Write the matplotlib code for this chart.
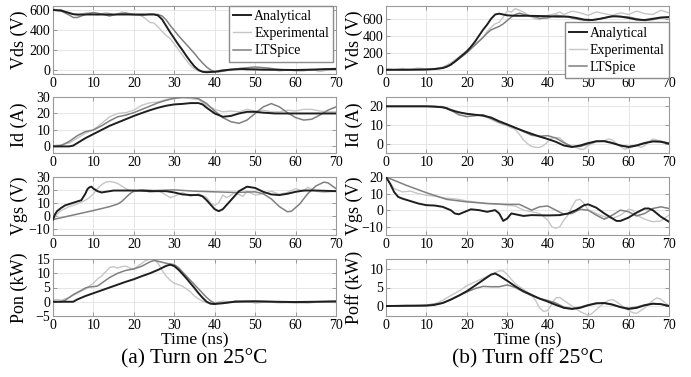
import matplotlib
matplotlib.use("Agg")
import matplotlib.pyplot as plt

plt.rcParams['font.family'] = ['Liberation Serif', 'DejaVu Serif']

# ---------------- (a) turn on ----------------
# Vds (V)
on_vds_ana_t = [0, 2, 4, 5, 6, 10, 15, 20, 25, 26, 27, 28, 29, 30, 31, 32, 33, 34, 35, 36, 37, 38, 40, 42, 44, 47, 50, 55, 60, 65, 70]
on_vds_ana_v = [600, 595, 570, 558, 555, 555, 555, 555, 555, 545, 505, 440, 375, 315, 255, 200, 140, 85, 35, 0, -18, -22, -18, -5, 5, 10, 5, 2, 0, 5, 10]
on_vds_exp_t = [0, 1, 2, 3, 4, 5, 6, 7, 8, 9, 10, 11, 12, 13, 14, 15, 16, 17, 18, 19, 20, 21, 22, 23, 24, 25, 26, 27, 28, 29, 30, 31, 32, 33, 34, 35, 36, 37, 38, 39, 40,
                42, 44, 46, 48, 50, 52, 54, 56, 58, 60, 62, 64, 66, 68, 70]
on_vds_exp_v = [610, 600, 605, 580, 575, 560, 545, 555, 570, 575, 560, 550, 560, 575, 565, 550, 560, 580, 570, 555, 545, 555, 540, 510, 475, 470, 430, 385, 345, 315, 260, 205, 150, 95, 45, 10, -10, -15, -10, -5, -15,
                5, -5, 10, -5, 15, -5, 5, -10, 0, -5, -10, 5, -15, 0, -5]
on_vds_lts_t = [0, 2, 4, 5, 6, 8, 10, 12, 14, 16, 18, 20, 22, 24, 26, 27, 28, 29, 30, 31, 32, 33, 34, 35, 36, 37, 38, 39, 40, 41, 43, 46, 50, 53, 56, 60, 64, 67, 70]
on_vds_lts_v = [600, 590, 550, 525, 525, 555, 575, 560, 540, 560, 570, 555, 545, 560, 555, 540, 500, 445, 395, 345, 300, 255, 210, 165, 115, 70, 30, 0, -15, -18, -5, 15, 30, 20, 5, -5, 0, 10, 15]

# Id (A)
on_id_ana_t = [0, 4, 5, 6, 8, 10, 12, 14, 16, 18, 20, 22, 24, 26, 28, 30, 32, 34, 36, 37, 38, 40, 42, 44, 46, 48, 50, 52, 55, 60, 65, 70]
on_id_ana_v = [0, 0, 0.5, 2, 5, 7.5, 10, 12.5, 14.5, 16.5, 18.5, 20.3, 22, 23.5, 24.7, 25.5, 25.8, 26.3, 26.3, 25.5, 23.5, 20, 18, 18.5, 20, 21, 21, 20.5, 20, 20, 20, 20]
on_id_exp_t = [0, 2, 4, 6, 8, 10, 12, 14, 16, 18, 20, 22, 24, 26, 28, 30, 32, 34, 36, 38, 40, 42, 44, 46, 48, 50, 52, 54, 56, 58, 60, 62, 64, 66, 68, 70]
on_id_exp_v = [0.5, 1, 2, 5, 8, 10, 14, 18, 20, 20.5, 22, 25, 26.5, 27, 28.5, 29, 29.5, 29, 28.5, 25, 22.5, 21, 21.5, 21, 22.5, 21.5, 22, 21, 21, 22, 21.5, 22.5, 22.5, 21.5, 21, 21]
on_id_lts_t = [0, 2, 4, 6, 8, 10, 12, 14, 16, 18, 20, 22, 24, 26, 28, 30, 32, 34, 36, 38, 40, 42, 44, 46, 48, 50, 52, 54, 56, 58, 60, 62, 64, 66, 68, 70]
on_id_lts_v = [0, 0.5, 3, 6.5, 9, 10, 12.5, 15.5, 18, 19, 20.5, 22.5, 24.5, 26.5, 28, 29.3, 29.8, 29.8, 29, 26, 21.5, 17.5, 15, 14, 16, 20, 24, 26, 24, 20.5, 17.5, 16, 16.5, 19, 22, 24]

# Vgs (V)
on_vgs_ana_t = [0, 0.5, 1, 2, 3, 4, 5, 6, 7, 8, 8.5, 9, 9.5, 10, 11, 12, 13, 15, 20, 25, 28, 30, 32, 34, 36, 37, 38, 40, 41, 42, 44, 46, 48, 50, 52, 54, 56, 58, 60, 62, 65, 70]
on_vgs_ana_v = [-3, 1, 3.5, 6, 8, 9, 10, 11, 12, 17, 20.5, 22, 22.5, 21, 19, 18, 18.5, 19.5, 19.5, 19, 19, 18, 16.5, 16, 16, 15, 12, 5, 3.5, 5, 12, 19, 22.5, 21.5, 18.5, 16.5, 16, 17, 18.5, 19.5, 19.5, 19]
on_vgs_exp_t = [0, 1, 2, 4, 6, 8, 9, 10, 11, 12, 13, 14, 15, 16, 17, 18, 19, 20, 22, 24, 26, 28, 29, 30, 32, 34, 36, 38, 39, 40, 41, 42, 43, 45, 47, 48, 50, 52, 54, 56, 58, 60, 62, 63, 65, 67, 70]
on_vgs_exp_v = [-3, 1, 4, 7, 9, 12, 14, 17, 21, 24, 26, 26.5, 26, 25, 23, 21, 19.5, 19, 20, 18, 19.5, 16, 14, 15, 18, 15, 17, 14, 10, 8, 10, 16, 14, 18, 15, 19, 16, 17, 19, 16.5, 18, 21, 19, 22, 19, 18, 19]
on_vgs_lts_t = [0, 5, 10, 14, 16, 17, 18, 19, 20, 22, 25, 30, 35, 40, 45, 50, 52, 54, 56, 58, 59, 61, 63, 65, 67, 68, 70]
on_vgs_lts_v = [-3, 0.5, 4, 7, 9, 11, 14, 17, 19, 20, 19.5, 20, 19, 18.5, 18, 18.5, 17, 13, 7, 3, 3.5, 9, 17, 23, 26, 25.5, 21]

# Pon (kW)
on_p_ana_t = [0, 5, 6, 8, 10, 12, 14, 16, 18, 20, 22, 24, 26, 28, 29, 30, 31, 32, 33, 34, 35, 36, 37, 38, 39, 40, 42, 45, 50, 55, 60, 65, 70]
on_p_ana_v = [0, 0, 0.8, 2, 3, 4, 5, 6, 7, 7.9, 9, 10, 11.2, 12.6, 13, 12.5, 11.3, 9.8, 8.2, 6.5, 4.8, 3, 1.4, 0, -0.7, -0.8, -0.5, 0, 0.1, 0, -0.1, 0, 0.1]
on_p_exp_t = [0, 1, 2, 4, 6, 8, 10, 11, 12, 13, 14, 15, 16, 17, 18, 19, 20, 21, 22, 23, 24, 25, 26, 27, 28, 29, 30, 31, 32, 33, 34, 35, 36, 37, 38, 40, 42, 45, 48, 50, 53, 56, 60, 63, 66, 70]
on_p_exp_v = [0.5, 0.8, 0.5, 1.5, 3, 4.5, 6.5, 8, 9, 10.5, 12, 12.3, 11.8, 12.3, 12.5, 11.8, 11.5, 12.5, 13.5, 14.5, 15, 14.8, 13.5, 11, 9, 7.5, 6.5, 6, 5.5, 4.5, 3.5, 2, 1, 0.2, -0.3, -0.3, 0.2, -0.2, 0.3, -0.5, 0, -0.4, -0.2, -0.5, 0, -0.3]
on_p_lts_t = [0, 2, 3, 5, 7, 8, 9, 10, 11, 12, 14, 16, 18, 20, 22, 24, 25, 26, 28, 30, 31, 33, 35, 37, 38, 39, 40, 42, 45, 50, 55, 60, 65, 70]
on_p_lts_v = [0, 0, 0.5, 2.5, 4, 4.8, 5.2, 5.3, 5.5, 6.5, 8.5, 10, 11, 11.5, 12.5, 14, 14.5, 14.2, 13.5, 13, 12, 9, 6, 3, 1.5, 0.3, -0.5, -0.6, 0.2, 0.3, 0, -0.3, 0, 0.2]

# ---------------- (b) turn off ----------------
# Vds (V)
off_vds_ana_t = [0, 5, 10, 12, 14, 15, 16, 17, 18, 19, 20, 21, 22, 23, 24, 25, 26, 27, 28, 29, 30, 32, 35, 40, 42, 45, 47, 49, 51, 53, 56, 58, 60, 62, 64, 66, 68, 70]
off_vds_ana_v = [0, 0, 3, 8, 20, 35, 60, 95, 135, 175, 215, 270, 330, 400, 470, 530, 600, 650, 660, 650, 640, 635, 635, 630, 625, 625, 610, 590, 585, 600, 630, 625, 610, 590, 585, 600, 615, 620]
off_vds_exp_t = [0, 2, 4, 6, 8, 10, 12, 14, 16, 18, 20, 22, 24, 25, 26, 27, 28, 29, 30, 31, 32, 33, 34, 35, 36, 37, 38, 40, 42, 43, 44, 46, 48, 50, 52, 54, 56, 58, 60, 62, 64, 66, 68, 70]
off_vds_exp_v = [10, 0, 15, 5, 20, 10, 15, 30, 80, 150, 230, 300, 380, 450, 500, 540, 560, 620, 690, 680, 720, 700, 680, 650, 620, 600, 590, 640, 660, 680, 650, 690, 670, 640, 680, 660, 640, 670, 650, 690, 660, 650, 700, 670]
off_vds_lts_t = [0, 5, 10, 12, 14, 16, 18, 20, 22, 24, 25, 26, 27, 28, 29, 30, 31, 32, 33, 35, 37, 38, 40, 42, 44, 46, 48, 50, 52, 55, 57, 60, 62, 64, 66, 68, 70]
off_vds_lts_v = [0, 0, 3, 8, 20, 55, 125, 200, 290, 380, 430, 470, 490, 510, 540, 580, 620, 650, 665, 640, 620, 605, 610, 640, 630, 610, 590, 580, 590, 620, 630, 620, 600, 580, 590, 610, 615]

# Id (A)
off_id_ana_t = [0, 10, 12, 14, 15, 16, 18, 20, 22, 24, 26, 28, 30, 32, 34, 36, 38, 40, 42, 44, 46, 48, 50, 52, 54, 56, 58, 60, 62, 64, 66, 68, 70]
off_id_ana_v = [20, 20, 19.8, 19.5, 19, 18, 16.8, 16, 15.5, 15, 14, 12, 10.3, 8.5, 6.8, 5.3, 3.8, 2.5, 1, -1, -1.8, -1, 0.3, 1.3, 1.3, 0.3, -1, -1.8, -1, 0.3, 1.2, 1, 0]
off_id_exp_t = [0, 14, 16, 18, 20, 22, 24, 26, 28, 30, 32, 33, 34, 35, 36, 37, 38, 39, 40, 41, 42, 43, 44, 45, 46, 47, 48, 49, 50, 51, 52, 54, 55, 56, 57, 58, 59, 60, 62, 63, 64, 65, 66, 67, 68, 70]
off_id_exp_v = [20, 20, 18.5, 17, 16, 15.5, 15, 13, 11, 9.5, 7.5, 5, 2, 0, -1.5, -2, -2, -1, 1, 3, 3.3, 3, 1, -1, -1.5, -2, -3, -3, -1, 0, 1, 1.5, 2.5, 2, 0, -1.5, -3, -2.5, -1, -2, -1, 1, 2.5, 2, 1, 0]
off_id_lts_t = [0, 12, 14, 16, 18, 20, 22, 24, 26, 28, 30, 32, 34, 36, 38, 40, 42, 44, 46, 48, 50, 52, 54, 56, 58, 60, 62, 64, 66, 68, 70]
off_id_lts_v = [20, 20, 19.5, 18, 15.5, 14.5, 15, 15.5, 13.5, 11.5, 10, 8.5, 6.5, 4.5, 4, 4.3, 3, 0.5, -1.5, -1.5, -0.2, 1.2, 1.5, 0.5, -1, -1.5, -0.8, 0.5, 1.3, 1.3, 0.3]

# Vgs (V)
off_vgs_ana_t = [0, 1, 2, 3, 4, 6, 8, 10, 12, 14, 16, 17, 18, 19, 21, 23, 25, 27, 28, 29, 30, 31, 32, 34, 36, 40, 43, 45, 47, 49, 50, 52, 54, 56, 57, 58, 60, 62, 64, 65, 66, 68, 70]
off_vgs_ana_v = [20, 16, 11, 8, 7, 5.5, 4, 3, 2.8, 2, 0, -2, -2.5, -1.5, 0.5, 0, -1, 0, -2, -6.5, -5, -2, -2.5, -3.5, -3, -3.2, -3, -2, 0, 3, 3.5, 1.5, -2, -5, -6.5, -6.5, -4.5, -1.5, 1, 1, 0, -4, -7]
off_vgs_exp_t = [0, 2, 4, 6, 8, 10, 12, 14, 16, 18, 20, 22, 25, 28, 30, 32, 34, 36, 38, 40, 41, 42, 43, 44, 45, 46, 47, 48, 49, 50, 52, 54, 56, 58, 60, 61, 62, 64, 66, 68, 70]
off_vgs_exp_v = [20, 13, 11, 11.5, 10, 9, 8.5, 7.5, 7, 6.5, 5.5, 5, 4, 3.5, 3, 2.5, 0, -1, -2, -6, -10, -11, -10, -6, -3, 2, 6, 6.5, 4, 0, -2, -4, -5, -3, 0.5, 0, -3, -5.5, -7, -6.5, -3]
off_vgs_lts_t = [0, 5, 10, 15, 20, 25, 30, 33, 36, 38, 40, 42, 44, 46, 48, 50, 52, 54, 56, 58, 60, 62, 64, 66, 68, 70]
off_vgs_lts_v = [20, 15, 10.5, 6.5, 5, 4, 3.5, 3.5, 0, 2, 2.5, 0, -2.5, -2, 0.5, 0, -3, -5.5, -3, 0, -1, -3.5, -2, 1, 2, 1]

# Poff (kW)
off_p_ana_t = [0, 10, 12, 14, 16, 18, 20, 22, 24, 26, 27, 28, 30, 32, 34, 36, 38, 40, 42, 44, 46, 48, 50, 52, 54, 56, 58, 60, 62, 64, 66, 68, 70]
off_p_ana_v = [0, 0.1, 0.3, 0.8, 1.7, 2.8, 4, 5.5, 7, 8.5, 8.8, 8.2, 6.8, 5.3, 4, 3, 2, 1.2, 0.3, -0.5, -0.8, -0.5, 0.2, 0.7, 0.8, 0.4, -0.3, -0.8, -0.5, 0.2, 0.6, 0.5, 0]
off_p_exp_t = [0, 5, 8, 10, 12, 14, 16, 18, 20, 22, 24, 26, 27, 28, 29, 30, 31, 32, 34, 36, 37, 38, 39, 40, 41, 42, 43, 44, 46, 48, 50, 51, 53, 55, 56, 57, 59, 61, 62, 64, 66, 67, 68, 70]
off_p_exp_v = [0, 0.2, 0, 0.3, 0.6, 1.5, 2.8, 4, 5.5, 6.5, 7.5, 8.5, 9, 9.5, 9.5, 8.5, 7.2, 6, 4.5, 3, 1.5, -0.5, -1.5, -1.2, 0.5, 2.2, 2.3, 1.5, 0, -1.5, -2.5, -2, 0, 1.5, 1.7, 1.2, -0.5, -1.8, -2, -0.5, 1.5, 2.2, 1.8, 0]
off_p_lts_t = [0, 10, 14, 16, 18, 20, 22, 24, 26, 28, 30, 32, 34, 36, 38, 40, 42, 44, 46, 48, 50, 52, 54, 56, 58, 60, 62, 64, 66, 68, 70]
off_p_lts_v = [0, 0.2, 0.8, 1.8, 2.8, 3.8, 4.7, 5.3, 5.2, 5.2, 5.7, 5, 3.8, 2.8, 2, 1.5, 0.8, -0.3, -0.7, -0.3, 0.3, 0.8, 0.8, 0.3, -0.3, -0.6, -0.3, 0.3, 0.7, 0.5, 0]

# ---------------- layout ----------------
labels = ['Analytical', 'Experimental', 'LTSpice']
colors = ['#1e1e1e', '#c6c6c6', '#808080']
widths = [1.4, 1.0, 1.1]
zorders = [4, 2, 3]

panels_on = [
    ('Vds (V)', (-40, 640), [0, 200, 400, 600],
     [(on_vds_ana_t, on_vds_ana_v), (on_vds_exp_t, on_vds_exp_v), (on_vds_lts_t, on_vds_lts_v)]),
    ('Id (A)', (-4, 30), [0, 10, 20, 30],
     [(on_id_ana_t, on_id_ana_v), (on_id_exp_t, on_id_exp_v), (on_id_lts_t, on_id_lts_v)]),
    ('Vgs (V)', (-15, 30), [-10, 0, 10, 20, 30],
     [(on_vgs_ana_t, on_vgs_ana_v), (on_vgs_exp_t, on_vgs_exp_v), (on_vgs_lts_t, on_vgs_lts_v)]),
    ('Pon (kW)', (-5, 15), [-5, 0, 5, 10, 15],
     [(on_p_ana_t, on_p_ana_v), (on_p_exp_t, on_p_exp_v), (on_p_lts_t, on_p_lts_v)]),
]
panels_off = [
    ('Vds (V)', (-50, 750), [0, 200, 400, 600],
     [(off_vds_ana_t, off_vds_ana_v), (off_vds_exp_t, off_vds_exp_v), (off_vds_lts_t, off_vds_lts_v)]),
    ('Id (A)', (-5, 25), [0, 10, 20],
     [(off_id_ana_t, off_id_ana_v), (off_id_exp_t, off_id_exp_v), (off_id_lts_t, off_id_lts_v)]),
    ('Vgs (V)', (-15, 20), [-10, 0, 10, 20],
     [(off_vgs_ana_t, off_vgs_ana_v), (off_vgs_exp_t, off_vgs_exp_v), (off_vgs_lts_t, off_vgs_lts_v)]),
    ('Poff (kW)', (-2.7, 12.7), [0, 5, 10],
     [(off_p_ana_t, off_p_ana_v), (off_p_exp_t, off_p_exp_v), (off_p_lts_t, off_p_lts_v)]),
]

fig = plt.figure(figsize=(6.91, 3.77), dpi=100)
W, H = 691.0, 377.0
rows_px = [(6, 74), (97, 153), (177, 235), (259, 316)]
cols_px = [53, 386]
axw = 283

def style(ax, ylabel, ylim, yticks, labx):
    ax.set_xlim(0, 70)
    ax.set_ylim(*ylim)
    ax.set_xticks(range(0, 71, 10))
    ax.set_yticks(yticks)
    ax.grid(True, color='#e2e2e2', lw=0.6)
    ax.set_axisbelow(True)
    ax.tick_params(direction='in', top=True, right=True, length=3, width=0.6,
                   color='#8c8c8c', labelsize=10, pad=2)
    for s in ax.spines.values():
        s.set_color('#9a9a9a')
        s.set_linewidth(0.8)
    ax.set_ylabel(ylabel, fontsize=13)
    ax.yaxis.set_label_coords(labx, 0.5)

axes = {}
for c, (panels, labx) in enumerate([(panels_on, -0.09), (panels_off, -0.082)]):
    for r, (ylabel, ylim, yticks, series) in enumerate(panels):
        top, bot = rows_px[r]
        ax = fig.add_axes([cols_px[c] / W, 1 - bot / H, axw / W, (bot - top) / H])
        for (t, v), lab, col, lw, z in zip(series, labels, colors, widths, zorders):
            ax.plot(t, v, color=col, lw=lw, label=lab, zorder=z)
        style(ax, ylabel, ylim, yticks, labx)
        axes[(r, c)] = ax

leg_kw = dict(fontsize=10, handlelength=1.3, handletextpad=0.2, labelspacing=0.3,
              borderpad=0.3, borderaxespad=0, fancybox=False, framealpha=1, edgecolor='#8c8c8c')
axes[(0, 0)].legend(loc='upper right', bbox_to_anchor=(0.99, 1.0), **leg_kw)
axes[(0, 1)].legend(loc='lower right', bbox_to_anchor=(1.0, -0.06), **leg_kw)

for c in range(2):
    cx = (cols_px[c] + axw / 2) / W
    fig.text(cx, 1 - 340 / H, 'Time (ns)', ha='center', va='center', fontsize=12.5)
fig.text((cols_px[0] + axw / 2) / W, 1 - 359 / H, '(a) Turn on 25°C', ha='center', va='center', fontsize=15.5)
fig.text((cols_px[1] + axw / 2) / W, 1 - 359 / H, '(b) Turn off 25°C', ha='center', va='center', fontsize=15.5)

fig.savefig('out.png', dpi=100)
